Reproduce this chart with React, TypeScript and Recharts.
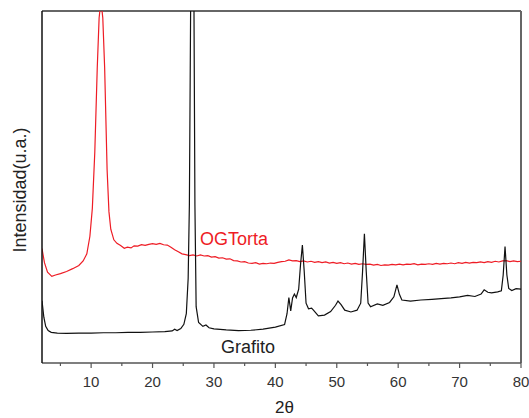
import React from 'react';
import { LineChart, Line, XAxis, YAxis, ReferenceLine } from 'recharts';

const grafitoX = [2.0,2.3,2.6,3.0,3.5,4.5,6,8,10,12,14,16,18,20,22,23.2,23.6,24.0,24.6,25.1,25.5,25.8,26.0,26.2,26.5,26.75,26.9,27.1,27.5,28.2,28.7,29.2,30,32,34,36,38,40,41.5,41.9,42.2,42.5,42.8,43.1,43.4,43.8,44.1,44.4,44.7,45.0,45.4,45.9,46.2,47,48,49,49.8,50.2,50.7,51.3,52.3,53.3,53.9,54.2,54.5,54.8,55.1,55.5,56.6,57.5,58.6,59.3,59.8,60.2,60.6,62,63.7,65.5,67,68.6,70,71.3,72.5,73.5,74.0,74.6,75.2,76.2,76.8,77.1,77.4,77.7,78.0,78.5,79.2,80];
const grafitoY = [17.7,13.0,10.4,9.2,8.7,8.5,8.4,8.5,8.5,8.6,8.6,8.7,8.7,8.8,8.9,9.1,9.6,9.2,9.8,11.0,14,24,45,100,260,100,45,16,11.5,10.4,10.8,10.0,9.7,9.4,9.2,9.3,9.6,10.2,10.9,14,18.6,14.8,18.5,19.6,18.6,21,28,33.5,26,17,15.4,15.6,15.0,13.4,13.6,14.6,16.4,17.6,16.6,15.0,14.5,15.0,17,26,36.7,26,17,16.0,16.8,16.4,17.2,18.8,22.2,19.5,17.9,17.6,17.9,18.1,18.3,18.5,18.8,19.2,18.9,19.6,20.8,20.1,19.9,20.2,20.5,25,33.1,25,21.2,20.6,21.1,21.0];

const ogX = [2.0,2.4,2.9,3.6,4.2,5,6,7,8,8.7,9.3,9.8,10.2,10.6,11.0,11.3,11.6,11.9,12.2,12.6,12.9,13.2,13.7,14.2,14.8,15.4,15.9,16.5,17.0,17.6,18.2,18.8,19.4,20.0,20.6,21.2,21.8,22.4,23.0,23.6,24.2,24.8,25.4,26.0,26.6,27.2,27.8,28.4,29.0,29.6,30.2,30.8,31.4,32.0,32.6,33.2,33.8,34.4,35.0,35.6,36.2,36.8,37.4,38.0,38.6,39.2,39.8,40.4,41.0,41.6,42.2,42.8,43.4,44.0,44.6,45.2,45.8,46.4,47.0,47.6,48.2,48.8,49.4,50.0,50.6,51.2,51.8,52.4,53.0,53.6,54.2,54.8,55.4,56.0,56.6,57.2,57.8,58.4,59.0,59.6,60.2,60.8,61.4,62.0,62.6,63.2,63.8,64.4,65.0,65.6,66.2,66.8,67.4,68.0,68.6,69.2,69.8,70.4,71.0,71.6,72.2,72.8,73.4,74.0,74.6,75.2,75.8,76.4,77.0,77.6,78.2,78.8,79.4,80.0];
const ogY = [32.5,28.5,25.8,24.6,25.0,25.4,26.0,26.8,27.7,29.0,31.0,36,44,60,84,98,103,98,84,55,43,38,35,34.0,33.4,32.6,32.9,32.7,33.3,33.2,33.6,33.4,33.7,33.9,33.7,34.0,33.6,33.5,32.9,32.2,31.6,31.0,30.8,30.5,30.7,30.4,30.7,30.4,30.5,30.1,30.2,29.8,29.9,29.5,29.6,29.1,29.0,28.7,28.8,28.4,28.3,28.5,28.1,28.3,28.2,28.4,28.3,28.6,28.8,28.9,29.3,29.0,29.1,28.8,29.0,28.7,28.9,28.6,28.8,28.5,28.7,28.4,28.6,28.3,28.5,28.2,28.4,28.1,28.3,28.0,28.2,28.0,28.1,27.8,28.0,27.7,27.9,27.8,28.0,27.9,28.1,27.9,28.1,28.0,28.2,27.9,28.1,28.0,28.2,28.0,28.3,28.1,28.3,28.2,28.4,28.2,28.5,28.3,28.6,28.4,28.6,28.5,28.7,28.5,28.8,28.6,28.9,28.7,29.0,29.1,28.8,29.0,28.8,28.9];

const xTicks = [5,10,15,20,25,30,35,40,45,50,55,60,65,70,75,80];

const grafitoData = grafitoX.map((x, i) => ({ x, y: grafitoY[i] }));
const ogData = ogX.map((x, i) => ({ x, y: ogY[i] }));

const FONT = '"Liberation Sans", Arial, sans-serif';

const XTick = (props: any) => {
  const { x, y, payload } = props;
  const major = payload.value % 10 === 0;
  return (
    <g>
      <line x1={x} x2={x} y1={y} y2={y + (major ? 5 : 3)} stroke="#555" strokeWidth={1.2} />
      {major && (
        <text x={x} y={y + 24} textAnchor="middle" fontSize={15} fill="#333" fontFamily={FONT}>
          {payload.value}
        </text>
      )}
    </g>
  );
};

const YLabel = (props: any) => {
  const vb = props.viewBox || { x: 0, y: 11, width: 42, height: 352 };
  const cx = vb.x + 20;
  const cy = vb.y + vb.height / 2 + 3;
  return (
    <text x={cx} y={cy} transform={`rotate(-90 ${cx} ${cy})`} textAnchor="middle" dominantBaseline="central" fontSize={18} fill="#222" fontFamily={FONT}>
      Intensidad(u.a.)
    </text>
  );
};

const XLabel = (props: any) => {
  const vb = props.viewBox || { x: 42, y: 363, width: 479, height: 55 };
  return (
    <text x={vb.x + vb.width / 2 + 3} y={vb.y + 50} textAnchor="middle" fontSize={17} fill="#222" fontFamily={FONT}>
      2θ
    </text>
  );
};

export default function App() {
  return (
    <div style={{ position: 'absolute', left: 0, top: 0, width: 529, height: 418, background: '#fff' }}>
      <LineChart width={529} height={418} margin={{ top: 11, right: 8, bottom: 0, left: 0 }}>
        <XAxis
          type="number"
          dataKey="x"
          domain={[2, 80]}
          ticks={xTicks}
          allowDataOverflow
          height={55}
          tickLine={false}
          tickSize={0}
          tickMargin={0}
          tick={<XTick />}
          axisLine={{ stroke: '#555', strokeWidth: 1.5 }}
          interval={0}
          label={<XLabel />}
        />
        <YAxis
          type="number"
          dataKey="y"
          domain={[0, 100]}
          allowDataOverflow
          width={42}
          tick={false}
          tickLine={false}
          axisLine={{ stroke: '#111', strokeWidth: 1.5 }}
          label={<YLabel />}
        />
        <ReferenceLine y={100} stroke="#666" strokeWidth={2} />
        <ReferenceLine x={80} stroke="#666" strokeWidth={2} />
        <Line data={ogData} dataKey="y" type="linear" stroke="#ee1c25" strokeWidth={1.2} dot={false} isAnimationActive={false} />
        <Line data={grafitoData} dataKey="y" type="linear" stroke="#111" strokeWidth={1.2} dot={false} isAnimationActive={false} />
        <text x={200} y={245} fontSize={18} fill="#ee1c25" fontFamily={FONT}>OGTorta</text>
        <text x={221} y={353} fontSize={18} fill="#222" fontFamily={FONT}>Grafito</text>
      </LineChart>
    </div>
  );
}
